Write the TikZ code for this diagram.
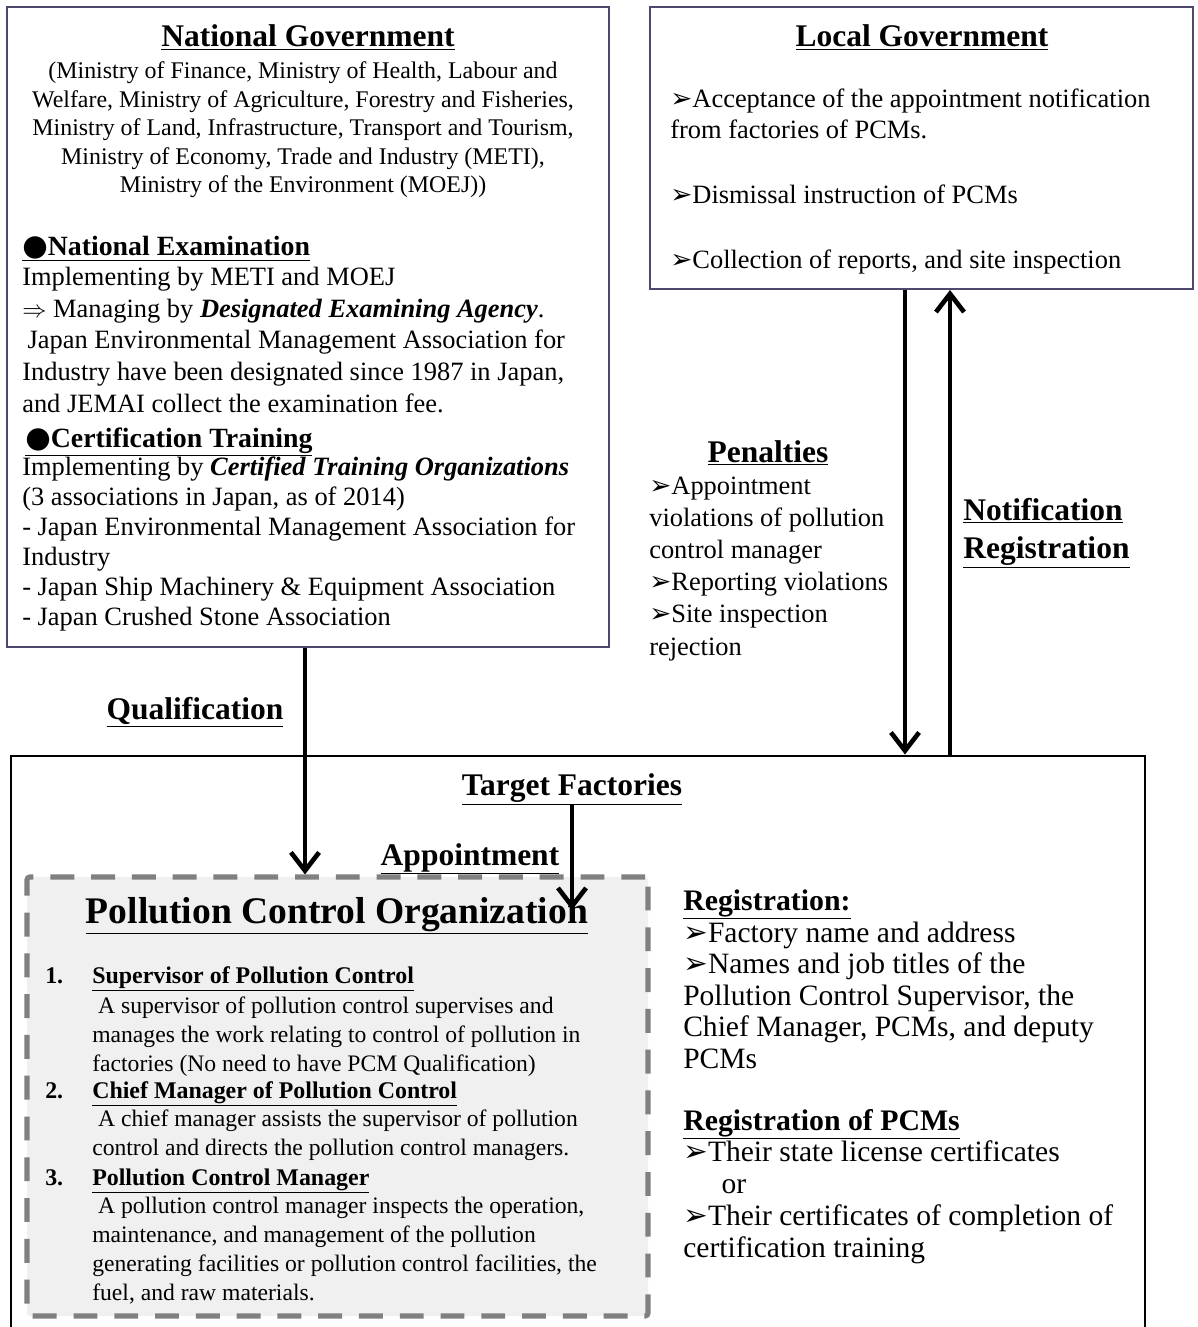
\documentclass[tikz,border=0pt]{standalone}
\usepackage{fontspec}
\setmainfont{Liberation Serif}
\newfontfamily\symfont[Scale=1.0]{DejaVu Sans}
\newfontfamily\dotfont[Scale=1.05]{DejaVu Sans}
\usetikzlibrary{arrows.meta,positioning,fit}

\definecolor{framecol}{RGB}{80,70,110}
\definecolor{dashcol}{RGB}{128,128,128}
\definecolor{orgfill}{RGB}{240,240,240}

\newcommand{\fsz}[2]{\fontsize{#1}{#2}\selectfont}
\newcommand{\bul}{{\symfont ➢}}
\newcommand{\dotmark}{{\dotfont ●}}

\begin{document}
\begin{tikzpicture}[x=0.025cm, y=-0.025cm]
    \tikzset{
    govbox/.style={
        draw=framecol,
        line width=1.4pt,
        inner sep=0pt
    },
    factbox/.style={
        draw,
        line width=2.1pt,
        inner sep=0pt
    },
    orgbox/.style={
        draw=dashcol,
        fill=orgfill,
        line width=3.6pt,
        dash pattern=on 17pt off 12pt,
        rounded corners=2pt,
        inner sep=0pt
    },
    head/.style={
        anchor=base,
        inner sep=0pt,
        font=\bfseries\fsz{22.4}{27}
    },
    body/.style={
        anchor=base west,
        align=left,
        inner sep=0pt,
        font=\fsz{18.8}{22.5}
    },
    num/.style={
        body,
        font=\bfseries\fsz{17}{20.6}
    },
    itemtxt/.style={
        body,
        font=\fsz{16.8}{20.6}
    },
    arrow/.style={
        -{Straight Barb[length=13pt,width=20pt]}, line width=3.3pt
    }
}
    \useasboundingbox (0,0) rectangle (1197,1327);
    \clip (0,0) rectangle (1197,1327);

    % boxes
    \node[govbox, fit={(7,7) (609,647)}] (natgov) {};
    \node[govbox, fit={(650,7) (1193,289)}] (locgov) {};
    \node[factbox, fit={(11,756) (1145,1400)}] (factory) {};
    \node[orgbox, fit={(27,877) (648,1316)}] (pco) {};

    % national government (multi-line texts sit on their last baseline)
    \node[head] (ngtitle) at (308,47) {\underline{National Government}};
    \node[body, anchor=base, align=center, font=\fsz{17}{20.3}] (ngmin) at (303,193) {(Ministry of Finance, Ministry of Health, Labour and\\Welfare, Ministry of Agriculture, Forestry and Fisheries,\\Ministry of Land, Infrastructure, Transport and Tourism,\\Ministry of Economy, Trade and Industry (METI),\\Ministry of the Environment (MOEJ))};
    \node[body, font=\bfseries\fsz{19.8}{24}] (natexam) at (22,255) {\underline{\dotmark National Examination}};
    \node[body] (examtxt) at (22,412) {Implementing by METI and MOEJ\\$\Rightarrow$ Managing by \textbf{\textit{Designated Examining Agency}}.\\\hspace{0.2em}Japan Environmental Management Association for\\Industry have been designated since 1987 in Japan,\\and JEMAI collect the examination fee.};
    \node[body, font=\bfseries\fsz{19.8}{24}] (certtrain) at (25,447) {\underline{\dotmark Certification Training}};
    \node[body, font=\fsz{18.8}{21.2}] (traintxt) at (22,625) {Implementing by \textbf{\textit{Certified Training Organizations}}\\(3 associations in Japan, as of 2014)\\- Japan Environmental Management Association for\\Industry\\- Japan Ship Machinery \& Equipment Association\\- Japan Crushed Stone Association};

    % local government
    \node[head] (lgtitle) at (922,47) {\underline{Local Government}};
    \node[body, font=\fsz{18.8}{22}] (lgtxt) at (670,268) {\bul Acceptance of the appointment notification\\from factories of PCMs.\\[24pt]\bul Dismissal instruction of PCMs\\[24pt]\bul Collection of reports, and site inspection};

    % between the boxes
    \node[head] (pentitle) at (768,462) {\underline{Penalties}};
    \node[body, font=\fsz{18.8}{22.8}] (pentxt) at (649,655) {\bul Appointment\\violations of pollution\\control manager\\\bul Reporting violations\\\bul Site inspection\\rejection};
    \node[head, anchor=base west, align=left] (notreg) at (963,558) {\underline{Notification}\\\underline{Registration}};
    \node[head] (qual) at (195,719) {\underline{Qualification}};

    % target factories
    \node[head] (target) at (572,795) {\underline{Target Factories}};
    \node[head] (appoint) at (470,865) {\underline{Appointment}};
    \coordinate (apptend) at (572,910);

    % pollution control organization
    \node[head, font=\bfseries\fsz{26.7}{32}] (pcotitle) at (337,923) {\underline{Pollution Control Organization}};
    \node[num] (num1) at (45,983) {1.};
    \node[num] (sup) at (92,983) {\underline{Supervisor of Pollution Control}};
    \node[itemtxt] (suptxt) at (92,1071) {\hspace{0.25em}A supervisor of pollution control supervises and\\manages the work relating to control of pollution in\\factories (No need to have PCM Qualification)};
    \node[num] (num2) at (45,1098) {2.};
    \node[num] (chief) at (92,1098) {\underline{Chief Manager of Pollution Control}};
    \node[itemtxt] (chieftxt) at (92,1155) {\hspace{0.25em}A chief manager assists the supervisor of pollution\\control and directs the pollution control managers.};
    \node[num] (num3) at (45,1185) {3.};
    \node[num] (pcm) at (92,1185) {\underline{Pollution Control Manager}};
    \node[itemtxt] (pcmtxt) at (92,1300) {\hspace{0.25em}A pollution control manager inspects the operation,\\maintenance, and management of the pollution\\generating facilities or pollution control facilities, the\\fuel, and raw materials.};

    % registration
    \node[body, font=\bfseries\fsz{21.2}{24}] (reg) at (683,910) {\underline{Registration:}};
    \node[body, font=\fsz{21}{22.4}] (regtxt) at (683,1068) {\bul Factory name and address\\\bul Names and job titles of the\\Pollution Control Supervisor, the\\Chief Manager, PCMs, and deputy\\PCMs};
    \node[body, font=\bfseries\fsz{21.2}{24}] (regpcm) at (683,1130) {\underline{Registration of PCMs}};
    \node[body, font=\fsz{21}{22.6}] (regpcmtxt) at (683,1257) {\bul Their state license certificates\\\hspace{1.3em}or\\\bul Their certificates of completion of\\certification training};

    % arrows
    \coordinate (qx) at (305,0);
    \coordinate (dnx) at (905,0);
    \coordinate (upx) at (950,0);
    \draw[arrow] (natgov.south -| qx) -- (pco.north -| qx);
    \draw[arrow] (locgov.south -| dnx) -- (factory.north -| dnx);
    \draw[arrow] (factory.north -| upx) -- (locgov.south -| upx);
    \draw[arrow] (target.south) -- (target.south |- apptend);
\end{tikzpicture}
\end{document}
